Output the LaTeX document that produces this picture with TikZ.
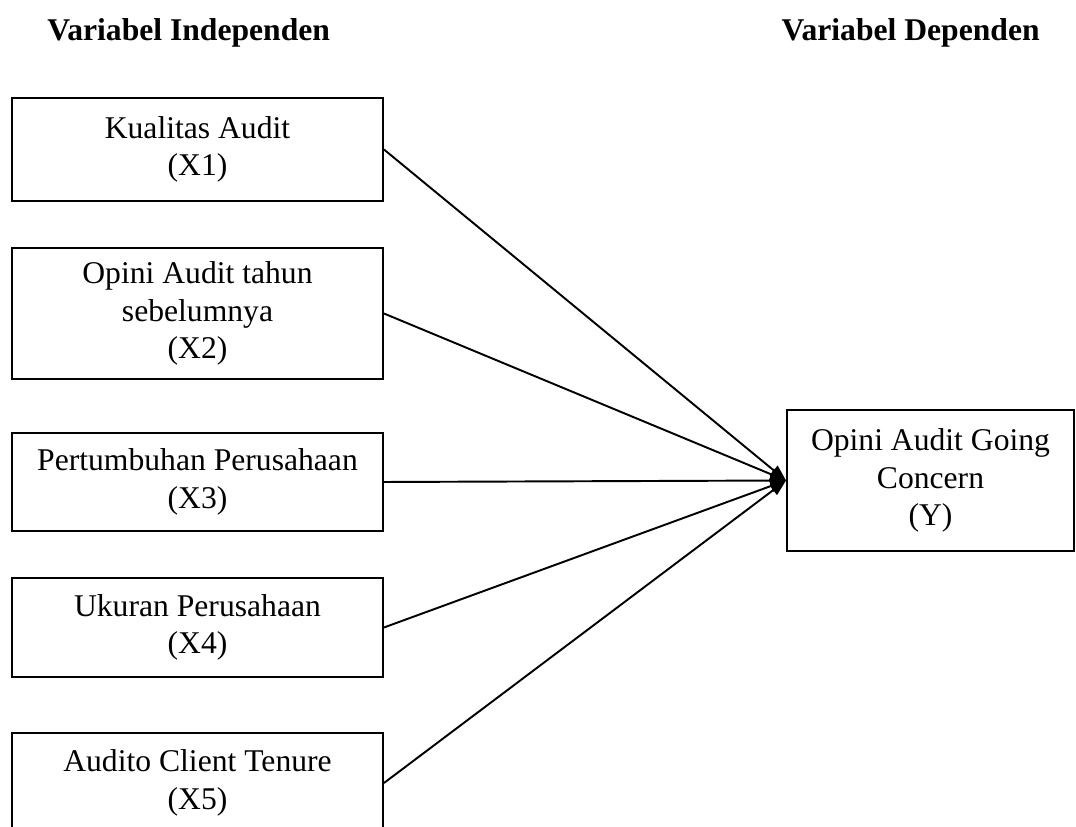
\documentclass[tikz,border=0pt]{standalone}
\usepackage{fontspec}
\setmainfont{Liberation Serif}
\usepackage{tikz}
\usetikzlibrary{positioning,arrows.meta}

\begin{document}
\begin{tikzpicture}[
  var/.style={draw=black,line width=1.1pt,fill=white,minimum width=7.42cm,inner sep=0pt,align=center,font=\fontsize{18}{21.3}\selectfont},
  head/.style={font=\fontsize{18}{21.3}\selectfont\bfseries,inner sep=0pt},
  link/.style={line width=1.1pt,-{Triangle[length=3.2mm,width=2.4mm]}}
]
\useasboundingbox (0,0) rectangle (21.52,16.54);
\clip (0,0) rectangle (21.52,16.54);
\node[head,anchor=west] (indep) at (0.94,15.88) {Variabel Independen};
\node[head,anchor=east] (dep) at (20.8,15.88) {Variabel Dependen};
\node[var,minimum height=2.06cm] (kualitas) at (3.95,13.55) {Kualitas Audit\\(X1)};
\node[var,minimum height=2.62cm] (opini) at (3.95,10.27) {Opini Audit tahun\\sebelumnya\\(X2)};
\node[var,minimum height=1.96cm] (tumbuh) at (3.95,6.90) {Pertumbuhan Perusahaan\\(X3)};
\node[var,minimum height=1.98cm] (ukuran) at (3.95,3.99) {Ukuran Perusahaan\\(X4)};
\node[var,minimum height=2.0cm] (tenure) at (3.95,0.88) {Audito Client Tenure\\(X5)};
\node[var,minimum width=5.74cm,minimum height=2.82cm] (going) at (18.61,6.93) {Opini Audit Going\\Concern\\(Y)};
\draw[link] (kualitas.east) -- (going.west);
\draw[link] (opini.east) -- (going.west);
\draw[link] (tumbuh.east) -- (going.west);
\draw[link] (ukuran.east) -- (going.west);
\draw[link] (tenure.east) -- (going.west);
\end{tikzpicture}
\end{document}
